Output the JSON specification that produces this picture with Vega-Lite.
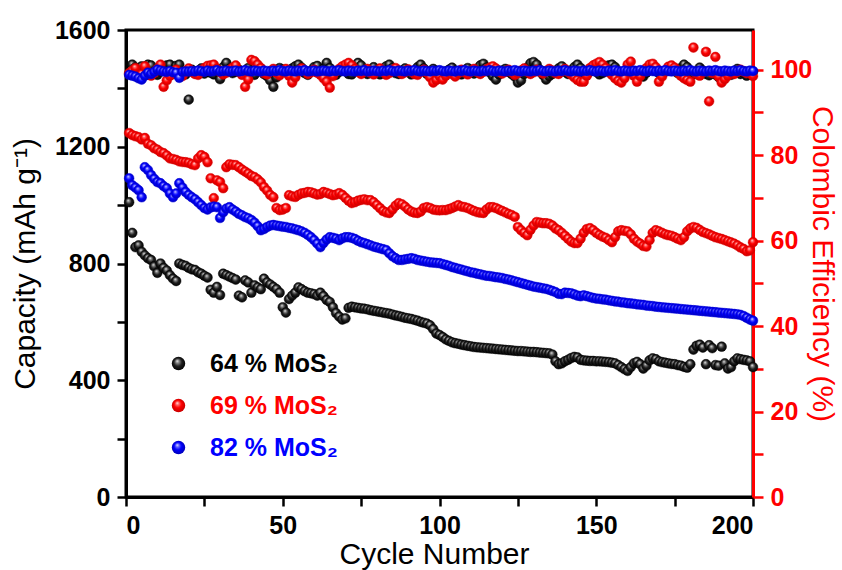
{
"$schema":"https://vega.github.io/schema/vega-lite/v6.json",
"width":627,"height":467,
"autosize":{"type":"none"},
"padding":{"left":126,"top":30,"right":89,"bottom":73},
"background":"white",
"data":{"values":[
{"c":1,"a":1010,"b":1247,"d":1092,"ea":99.0,"eb":99.2,"ed":98.8},
{"c":2,"a":905,"b":1240,"d":1068,"ea":101.2,"eb":99.8,"ed":98.6},
{"c":3,"a":856,"b":1236,"d":1060,"ea":100.5,"eb":100.4,"ed":98.4},
{"c":4,"a":862,"b":1233,"d":1051,"ea":99.2,"eb":98.5,"ed":98.0},
{"c":5,"a":840,"b":1225,"d":1027,"ea":100.8,"eb":99.0,"ed":97.7},
{"c":6,"a":828,"b":1230,"d":1130,"ea":99.0,"eb":100.8,"ed":98.6},
{"c":7,"a":818,"b":1210,"d":1120,"ea":101.2,"eb":99.5,"ed":99.3},
{"c":8,"a":812,"b":1205,"d":1103,"ea":101.0,"eb":98.6,"ed":99.0},
{"c":9,"a":790,"b":1195,"d":1090,"ea":99.5,"eb":99.3,"ed":99.5},
{"c":10,"a":768,"b":1190,"d":1079,"ea":98.8,"eb":100.2,"ed":100.0},
{"c":11,"a":800,"b":1182,"d":1075,"ea":99.6,"eb":101.2,"ed":99.8},
{"c":12,"a":785,"b":1178,"d":1065,"ea":100.2,"eb":96.0,"ed":99.6},
{"c":13,"a":776,"b":1170,"d":1058,"ea":101.0,"eb":97.5,"ed":99.5},
{"c":14,"a":760,"b":1160,"d":1040,"ea":101.2,"eb":98.6,"ed":99.7},
{"c":15,"a":748,"b":1158,"d":1027,"ea":99.0,"eb":99.4,"ed":99.4},
{"c":16,"a":740,"b":1155,"d":1040,"ea":100.9,"eb":100.0,"ed":99.3},
{"c":17,"a":800,"b":1150,"d":1075,"ea":101.2,"eb":99.0,"ed":98.1},
{"c":18,"a":795,"b":1148,"d":1060,"ea":99.4,"eb":98.5,"ed":99.5},
{"c":19,"a":792,"b":1147,"d":1045,"ea":98.9,"eb":99.6,"ed":99.6},
{"c":20,"a":785,"b":1145,"d":1035,"ea":93.0,"eb":100.3,"ed":99.6},
{"c":21,"a":780,"b":1140,"d":1027,"ea":100.0,"eb":99.5,"ed":99.7},
{"c":22,"a":778,"b":1137,"d":1020,"ea":99.2,"eb":99.0,"ed":99.6},
{"c":23,"a":770,"b":1160,"d":1010,"ea":99.6,"eb":98.8,"ed":99.8},
{"c":24,"a":765,"b":1171,"d":1000,"ea":100.3,"eb":99.7,"ed":99.7},
{"c":25,"a":758,"b":1165,"d":990,"ea":99.1,"eb":100.4,"ed":99.5},
{"c":26,"a":752,"b":1147,"d":985,"ea":100.0,"eb":100.9,"ed":99.8},
{"c":27,"a":710,"b":1092,"d":992,"ea":99.3,"eb":101.0,"ed":99.6},
{"c":28,"a":700,"b":1024,"d":995,"ea":98.9,"eb":101.2,"ed":99.7},
{"c":29,"a":720,"b":1085,"d":993,"ea":99.7,"eb":100.2,"ed":99.9},
{"c":30,"a":692,"b":1079,"d":956,"ea":97.8,"eb":99.5,"ed":99.6},
{"c":31,"a":765,"b":1058,"d":975,"ea":100.6,"eb":98.9,"ed":99.7},
{"c":32,"a":760,"b":1130,"d":988,"ea":101.6,"eb":99.3,"ed":99.8},
{"c":33,"a":755,"b":1140,"d":993,"ea":100.2,"eb":99.9,"ed":99.6},
{"c":34,"a":750,"b":1138,"d":985,"ea":99.2,"eb":100.5,"ed":99.7},
{"c":35,"a":745,"b":1137,"d":978,"ea":99.5,"eb":101.0,"ed":99.8},
{"c":36,"a":690,"b":1130,"d":970,"ea":100.0,"eb":99.6,"ed":99.6},
{"c":37,"a":684,"b":1122,"d":965,"ea":99.0,"eb":98.8,"ed":99.7},
{"c":38,"a":742,"b":1115,"d":959,"ea":99.6,"eb":96.0,"ed":99.9},
{"c":39,"a":735,"b":1108,"d":955,"ea":100.4,"eb":97.7,"ed":99.7},
{"c":40,"a":700,"b":1100,"d":949,"ea":99.3,"eb":102.3,"ed":99.6},
{"c":41,"a":725,"b":1096,"d":940,"ea":98.8,"eb":102.0,"ed":99.8},
{"c":42,"a":718,"b":1088,"d":928,"ea":99.8,"eb":101.2,"ed":99.7},
{"c":43,"a":712,"b":1078,"d":914,"ea":100.3,"eb":100.4,"ed":99.6},
{"c":44,"a":748,"b":1062,"d":918,"ea":99.0,"eb":99.2,"ed":99.8},
{"c":45,"a":735,"b":1050,"d":925,"ea":98.5,"eb":98.9,"ed":99.7},
{"c":46,"a":728,"b":1035,"d":930,"ea":97.5,"eb":99.6,"ed":99.6},
{"c":47,"a":720,"b":1027,"d":932,"ea":96.0,"eb":100.2,"ed":99.8},
{"c":48,"a":712,"b":990,"d":930,"ea":98.2,"eb":99.3,"ed":99.7},
{"c":49,"a":700,"b":983,"d":928,"ea":100.4,"eb":98.7,"ed":99.9},
{"c":50,"a":650,"b":985,"d":926,"ea":100.0,"eb":99.5,"ed":99.7},
{"c":51,"a":632,"b":990,"d":925,"ea":99.4,"eb":100.2,"ed":99.6},
{"c":52,"a":678,"b":1034,"d":922,"ea":98.9,"eb":98.6,"ed":99.8},
{"c":53,"a":690,"b":1030,"d":920,"ea":100.3,"eb":97.0,"ed":99.7},
{"c":54,"a":700,"b":1028,"d":917,"ea":100.8,"eb":98.2,"ed":99.6},
{"c":55,"a":718,"b":1035,"d":914,"ea":101.2,"eb":99.5,"ed":99.8},
{"c":56,"a":712,"b":1040,"d":910,"ea":100.5,"eb":100.3,"ed":99.7},
{"c":57,"a":705,"b":1042,"d":905,"ea":99.2,"eb":99.8,"ed":99.9},
{"c":58,"a":700,"b":1045,"d":898,"ea":98.8,"eb":99.0,"ed":99.6},
{"c":59,"a":698,"b":1044,"d":890,"ea":99.7,"eb":99.4,"ed":99.7},
{"c":60,"a":695,"b":1040,"d":880,"ea":100.6,"eb":100.0,"ed":99.8},
{"c":61,"a":690,"b":1036,"d":868,"ea":100.9,"eb":99.3,"ed":99.6},
{"c":62,"a":700,"b":1038,"d":856,"ea":99.3,"eb":98.8,"ed":99.7},
{"c":63,"a":688,"b":1045,"d":870,"ea":100.2,"eb":98.0,"ed":99.8},
{"c":64,"a":675,"b":1042,"d":882,"ea":101.6,"eb":97.2,"ed":99.7},
{"c":65,"a":668,"b":1038,"d":890,"ea":100.4,"eb":95.8,"ed":99.6},
{"c":66,"a":650,"b":1034,"d":888,"ea":99.0,"eb":98.5,"ed":99.8},
{"c":67,"a":630,"b":1036,"d":885,"ea":98.8,"eb":99.6,"ed":99.7},
{"c":68,"a":618,"b":1041,"d":880,"ea":99.5,"eb":100.2,"ed":99.9},
{"c":69,"a":608,"b":1035,"d":886,"ea":100.0,"eb":100.8,"ed":99.7},
{"c":70,"a":612,"b":1025,"d":890,"ea":100.5,"eb":101.2,"ed":99.6},
{"c":71,"a":648,"b":1015,"d":890,"ea":99.0,"eb":101.6,"ed":99.8},
{"c":72,"a":652,"b":1007,"d":888,"ea":98.9,"eb":101.0,"ed":99.7},
{"c":73,"a":650,"b":1010,"d":884,"ea":100.6,"eb":100.2,"ed":99.6},
{"c":74,"a":648,"b":1015,"d":878,"ea":101.6,"eb":99.5,"ed":99.8},
{"c":75,"a":646,"b":1018,"d":873,"ea":101.0,"eb":99.0,"ed":99.7},
{"c":76,"a":645,"b":1020,"d":870,"ea":99.5,"eb":99.6,"ed":99.9},
{"c":77,"a":643,"b":1017,"d":866,"ea":99.0,"eb":100.2,"ed":99.6},
{"c":78,"a":640,"b":1017,"d":862,"ea":99.3,"eb":99.3,"ed":99.7},
{"c":79,"a":638,"b":1010,"d":858,"ea":100.6,"eb":98.9,"ed":99.8},
{"c":80,"a":636,"b":1000,"d":855,"ea":99.4,"eb":99.7,"ed":99.7},
{"c":81,"a":634,"b":990,"d":852,"ea":98.9,"eb":100.3,"ed":99.6},
{"c":82,"a":632,"b":980,"d":849,"ea":99.7,"eb":99.5,"ed":99.8},
{"c":83,"a":630,"b":975,"d":846,"ea":100.8,"eb":98.8,"ed":99.7},
{"c":84,"a":628,"b":973,"d":835,"ea":101.2,"eb":99.2,"ed":99.9},
{"c":85,"a":625,"b":985,"d":825,"ea":100.4,"eb":99.9,"ed":99.7},
{"c":86,"a":622,"b":998,"d":818,"ea":99.2,"eb":100.4,"ed":99.6},
{"c":87,"a":620,"b":1007,"d":812,"ea":99.0,"eb":99.6,"ed":99.8},
{"c":88,"a":617,"b":1003,"d":812,"ea":99.8,"eb":99.0,"ed":99.7},
{"c":89,"a":614,"b":995,"d":814,"ea":100.3,"eb":99.4,"ed":99.6},
{"c":90,"a":612,"b":985,"d":816,"ea":99.5,"eb":100.1,"ed":99.8},
{"c":91,"a":610,"b":978,"d":818,"ea":98.9,"eb":99.6,"ed":99.7},
{"c":92,"a":607,"b":974,"d":816,"ea":99.6,"eb":99.0,"ed":99.9},
{"c":93,"a":604,"b":973,"d":812,"ea":100.6,"eb":98.8,"ed":99.7},
{"c":94,"a":600,"b":978,"d":810,"ea":101.2,"eb":99.5,"ed":99.6},
{"c":95,"a":597,"b":990,"d":808,"ea":100.3,"eb":100.0,"ed":99.8},
{"c":96,"a":594,"b":993,"d":806,"ea":99.0,"eb":99.3,"ed":99.7},
{"c":97,"a":588,"b":990,"d":804,"ea":99.4,"eb":98.2,"ed":99.6},
{"c":98,"a":575,"b":985,"d":803,"ea":100.2,"eb":97.0,"ed":99.8},
{"c":99,"a":560,"b":983,"d":802,"ea":99.7,"eb":97.6,"ed":99.7},
{"c":100,"a":555,"b":982,"d":801,"ea":99.1,"eb":98.5,"ed":99.9},
{"c":101,"a":548,"b":983,"d":798,"ea":98.9,"eb":97.7,"ed":99.7},
{"c":102,"a":540,"b":983,"d":795,"ea":99.4,"eb":98.6,"ed":99.6},
{"c":103,"a":535,"b":986,"d":792,"ea":100.0,"eb":99.4,"ed":99.8},
{"c":104,"a":530,"b":990,"d":788,"ea":100.5,"eb":99.0,"ed":99.7},
{"c":105,"a":527,"b":995,"d":785,"ea":99.6,"eb":98.4,"ed":99.6},
{"c":106,"a":525,"b":1000,"d":782,"ea":99.2,"eb":99.2,"ed":99.8},
{"c":107,"a":522,"b":995,"d":779,"ea":98.9,"eb":100.0,"ed":99.7},
{"c":108,"a":520,"b":993,"d":776,"ea":99.7,"eb":99.4,"ed":99.9},
{"c":109,"a":518,"b":990,"d":773,"ea":100.4,"eb":98.9,"ed":99.7},
{"c":110,"a":516,"b":985,"d":770,"ea":99.5,"eb":99.6,"ed":99.6},
{"c":111,"a":514,"b":980,"d":768,"ea":99.1,"eb":100.2,"ed":99.8},
{"c":112,"a":513,"b":976,"d":765,"ea":100.2,"eb":99.5,"ed":99.7},
{"c":113,"a":512,"b":974,"d":763,"ea":101.0,"eb":99.0,"ed":99.6},
{"c":114,"a":511,"b":973,"d":760,"ea":101.4,"eb":99.5,"ed":99.8},
{"c":115,"a":510,"b":985,"d":758,"ea":100.5,"eb":100.1,"ed":99.7},
{"c":116,"a":509,"b":993,"d":757,"ea":99.4,"eb":100.5,"ed":99.9},
{"c":117,"a":508,"b":993,"d":755,"ea":98.5,"eb":100.8,"ed":99.7},
{"c":118,"a":507,"b":990,"d":753,"ea":97.7,"eb":100.3,"ed":99.6},
{"c":119,"a":506,"b":985,"d":752,"ea":98.9,"eb":99.6,"ed":99.8},
{"c":120,"a":505,"b":980,"d":750,"ea":99.8,"eb":99.1,"ed":99.7},
{"c":121,"a":504,"b":975,"d":747,"ea":100.2,"eb":99.5,"ed":99.6},
{"c":122,"a":503,"b":970,"d":745,"ea":99.5,"eb":100.0,"ed":99.8},
{"c":123,"a":502,"b":966,"d":742,"ea":99.0,"eb":99.4,"ed":99.7},
{"c":124,"a":501,"b":960,"d":739,"ea":98.4,"eb":98.8,"ed":99.9},
{"c":125,"a":500,"b":925,"d":736,"ea":97.0,"eb":99.2,"ed":99.7},
{"c":126,"a":500,"b":914,"d":733,"ea":97.5,"eb":99.8,"ed":99.6},
{"c":127,"a":499,"b":905,"d":730,"ea":99.0,"eb":100.3,"ed":99.8},
{"c":128,"a":498,"b":897,"d":727,"ea":100.5,"eb":99.6,"ed":99.7},
{"c":129,"a":497,"b":915,"d":724,"ea":101.5,"eb":99.0,"ed":99.6},
{"c":130,"a":497,"b":930,"d":721,"ea":101.8,"eb":99.4,"ed":99.8},
{"c":131,"a":496,"b":942,"d":719,"ea":101.2,"eb":100.0,"ed":99.7},
{"c":132,"a":495,"b":940,"d":717,"ea":100.0,"eb":99.5,"ed":99.9},
{"c":133,"a":494,"b":938,"d":715,"ea":98.8,"eb":99.1,"ed":99.7},
{"c":134,"a":493,"b":938,"d":713,"ea":97.7,"eb":99.6,"ed":99.6},
{"c":135,"a":492,"b":936,"d":710,"ea":98.5,"eb":100.2,"ed":99.8},
{"c":136,"a":488,"b":930,"d":706,"ea":99.0,"eb":99.8,"ed":99.7},
{"c":137,"a":465,"b":920,"d":702,"ea":99.4,"eb":99.2,"ed":99.6},
{"c":138,"a":455,"b":914,"d":696,"ea":100.3,"eb":99.0,"ed":99.8},
{"c":139,"a":458,"b":905,"d":695,"ea":100.8,"eb":99.6,"ed":99.7},
{"c":140,"a":465,"b":895,"d":700,"ea":99.5,"eb":100.2,"ed":99.9},
{"c":141,"a":470,"b":885,"d":699,"ea":99.0,"eb":99.5,"ed":99.7},
{"c":142,"a":476,"b":875,"d":698,"ea":99.8,"eb":98.9,"ed":99.6},
{"c":143,"a":480,"b":870,"d":694,"ea":100.6,"eb":98.2,"ed":99.8},
{"c":144,"a":478,"b":870,"d":690,"ea":101.2,"eb":97.6,"ed":99.7},
{"c":145,"a":470,"b":885,"d":688,"ea":100.4,"eb":97.2,"ed":99.6},
{"c":146,"a":468,"b":905,"d":691,"ea":99.3,"eb":97.2,"ed":99.8},
{"c":147,"a":467,"b":918,"d":688,"ea":98.9,"eb":98.6,"ed":99.7},
{"c":148,"a":466,"b":921,"d":685,"ea":99.6,"eb":100.4,"ed":99.9},
{"c":149,"a":466,"b":914,"d":682,"ea":100.2,"eb":101.0,"ed":99.7},
{"c":150,"a":465,"b":905,"d":680,"ea":99.5,"eb":101.4,"ed":99.6},
{"c":151,"a":465,"b":898,"d":679,"ea":98.9,"eb":101.8,"ed":99.8},
{"c":152,"a":464,"b":892,"d":677,"ea":99.2,"eb":101.2,"ed":99.7},
{"c":153,"a":463,"b":888,"d":676,"ea":100.5,"eb":100.4,"ed":99.6},
{"c":154,"a":462,"b":880,"d":674,"ea":101.0,"eb":99.4,"ed":99.8},
{"c":155,"a":460,"b":873,"d":672,"ea":101.2,"eb":98.8,"ed":99.7},
{"c":156,"a":458,"b":890,"d":670,"ea":100.6,"eb":98.0,"ed":99.9},
{"c":157,"a":452,"b":910,"d":669,"ea":99.1,"eb":97.4,"ed":99.7},
{"c":158,"a":445,"b":914,"d":667,"ea":98.8,"eb":97.0,"ed":99.6},
{"c":159,"a":438,"b":912,"d":666,"ea":99.6,"eb":98.0,"ed":99.8},
{"c":160,"a":432,"b":910,"d":664,"ea":100.1,"eb":101.2,"ed":99.7},
{"c":161,"a":445,"b":900,"d":663,"ea":99.4,"eb":101.9,"ed":99.6},
{"c":162,"a":458,"b":885,"d":662,"ea":98.9,"eb":98.6,"ed":99.8},
{"c":163,"a":463,"b":875,"d":660,"ea":99.5,"eb":97.2,"ed":99.7},
{"c":164,"a":455,"b":868,"d":659,"ea":98.6,"eb":98.5,"ed":99.9},
{"c":165,"a":440,"b":860,"d":658,"ea":98.4,"eb":99.6,"ed":99.7},
{"c":166,"a":450,"b":858,"d":656,"ea":99.3,"eb":100.4,"ed":99.6},
{"c":167,"a":468,"b":880,"d":655,"ea":100.2,"eb":101.2,"ed":99.8},
{"c":168,"a":475,"b":905,"d":654,"ea":100.6,"eb":101.4,"ed":99.7},
{"c":169,"a":472,"b":914,"d":652,"ea":99.8,"eb":100.6,"ed":99.6},
{"c":170,"a":465,"b":910,"d":651,"ea":99.2,"eb":97.2,"ed":99.8},
{"c":171,"a":462,"b":905,"d":650,"ea":98.9,"eb":98.4,"ed":99.7},
{"c":172,"a":460,"b":900,"d":649,"ea":99.6,"eb":99.6,"ed":99.9},
{"c":173,"a":458,"b":897,"d":648,"ea":100.3,"eb":100.7,"ed":99.7},
{"c":174,"a":456,"b":895,"d":647,"ea":100.8,"eb":101.0,"ed":99.6},
{"c":175,"a":455,"b":890,"d":646,"ea":99.7,"eb":100.5,"ed":99.8},
{"c":176,"a":452,"b":885,"d":645,"ea":99.2,"eb":99.4,"ed":99.7},
{"c":177,"a":450,"b":880,"d":644,"ea":100.4,"eb":98.6,"ed":99.6},
{"c":178,"a":446,"b":890,"d":643,"ea":101.2,"eb":98.0,"ed":99.8},
{"c":179,"a":443,"b":910,"d":642,"ea":100.6,"eb":97.6,"ed":99.7},
{"c":180,"a":455,"b":920,"d":641,"ea":99.4,"eb":97.2,"ed":99.9},
{"c":181,"a":505,"b":925,"d":640,"ea":98.9,"eb":105.2,"ed":99.7},
{"c":182,"a":518,"b":922,"d":639,"ea":99.5,"eb":99.0,"ed":99.6},
{"c":183,"a":522,"b":915,"d":638,"ea":100.5,"eb":98.6,"ed":99.8},
{"c":184,"a":512,"b":908,"d":637,"ea":99.8,"eb":99.4,"ed":99.7},
{"c":185,"a":455,"b":904,"d":636,"ea":99.0,"eb":104.2,"ed":99.6},
{"c":186,"a":520,"b":900,"d":635,"ea":98.7,"eb":92.6,"ed":99.8},
{"c":187,"a":510,"b":895,"d":634,"ea":99.3,"eb":99.2,"ed":99.7},
{"c":188,"a":452,"b":890,"d":633,"ea":98.9,"eb":103.0,"ed":99.9},
{"c":189,"a":450,"b":887,"d":632,"ea":98.3,"eb":98.4,"ed":99.7},
{"c":190,"a":515,"b":884,"d":631,"ea":97.7,"eb":97.0,"ed":99.6},
{"c":191,"a":458,"b":880,"d":630,"ea":98.5,"eb":97.8,"ed":99.8},
{"c":192,"a":440,"b":876,"d":629,"ea":99.2,"eb":98.6,"ed":99.7},
{"c":193,"a":445,"b":872,"d":628,"ea":98.8,"eb":99.4,"ed":99.6},
{"c":194,"a":465,"b":868,"d":627,"ea":99.4,"eb":99.0,"ed":99.8},
{"c":195,"a":475,"b":862,"d":626,"ea":100.2,"eb":99.5,"ed":99.7},
{"c":196,"a":472,"b":855,"d":624,"ea":99.0,"eb":100.0,"ed":99.9},
{"c":197,"a":470,"b":850,"d":620,"ea":99.3,"eb":99.6,"ed":99.7},
{"c":198,"a":468,"b":842,"d":614,"ea":98.6,"eb":99.2,"ed":99.6},
{"c":199,"a":465,"b":845,"d":608,"ea":99.0,"eb":99.4,"ed":99.8},
{"c":200,"a":445,"b":873,"d":604,"ea":99.6,"eb":98.5,"ed":99.7}
]},
"encoding":{"x":{"field":"c","type":"quantitative","title":"Cycle Number","scale":{"domain":[0,200],"nice":false},"axis":{"values":[0,25,50,75,100,125,150,175,200],"format":"d","labelExpr":"datum.value % 50 === 0 ? datum.label : ''","titlePadding":1,"labelPadding":7,"titleX":308}}},
"layer":[
{"transform":[{"fold":["a","b","d"],"as":["k","v"]}],
 "mark":{"type":"point","filled":true,"size":95,"opacity":1,"strokeWidth":0.5},
 "encoding":{
  "y":{"field":"v","type":"quantitative","title":"Capacity (mAh g⁻¹)","scale":{"domain":[0,1600],"nice":false},"axis":{"orient":"left","values":[0,200,400,600,800,1000,1200,1400,1600],"format":"d","labelExpr":"datum.value % 400 === 0 ? datum.label : ''","titlePadding":14}},
  "fill":{"value":{"expr":"(datum.k || datum.value) === 'b' ? {gradient:'radial',x1:0.4,y1:0.3,r1:0,x2:0.5,y2:0.5,r2:0.55,stops:[{offset:0,color:'#ffffff'},{offset:0.2,color:'#ff7070'},{offset:0.5,color:'#ff0000'},{offset:1,color:'#c00000'}]} : (datum.k || datum.value) === 'd' ? {gradient:'radial',x1:0.4,y1:0.3,r1:0,x2:0.5,y2:0.5,r2:0.55,stops:[{offset:0,color:'#ffffff'},{offset:0.2,color:'#7070ff'},{offset:0.5,color:'#0000ff'},{offset:1,color:'#0000b0'}]} : {gradient:'radial',x1:0.4,y1:0.3,r1:0,x2:0.5,y2:0.5,r2:0.55,stops:[{offset:0,color:'#ffffff'},{offset:0.22,color:'#8a8a8a'},{offset:0.55,color:'#1e1e1e'},{offset:1,color:'#000000'}]}"}},
  "stroke":{"field":"k","type":"nominal","scale":{"domain":["a","b","d"],"range":["#000000","#e00000","#0000e0"]},
   "legend":{"orient":"none","legendX":40,"legendY":321,"title":null,"padding":0,"labelFont":"Liberation Sans","labelFontSize":25,"labelFontWeight":"bold","symbolType":"circle","symbolSize":180,"symbolStrokeWidth":0,"labelOffset":19,"rowPadding":16,
    "labelExpr":"datum.value === 'a' ? '64 % MoS₂' : datum.value === 'b' ? '69 % MoS₂' : '82 % MoS₂'",
    "labelColor":{"expr":"datum.value === 'b' ? '#ff0000' : datum.value === 'd' ? '#0000ff' : '#000000'"}}}}},
{"layer":[
{"mark":{"type":"point","filled":true,"size":95,"opacity":1,"strokeWidth":0.5,"stroke":"#000000","fill":{"gradient":"radial","x1":0.4,"y1":0.3,"r1":0,"x2":0.5,"y2":0.5,"r2":0.55,"stops":[{"offset":0,"color":"#ffffff"},{"offset":0.22,"color":"#8a8a8a"},{"offset":0.55,"color":"#1e1e1e"},{"offset":1,"color":"#000000"}]}},
 "encoding":{"y":{"field":"ea","type":"quantitative","title":"Colombic Efficiency (%)","scale":{"domain":[0,109.3],"nice":false},"axis":{"orient":"right","values":[0,10,20,30,40,50,60,70,80,90,100],"format":"d","labelExpr":"datum.value % 20 === 0 ? datum.label : ''","titlePadding":-5,"tickSize":10,"labelPadding":7}}}},
{"mark":{"type":"point","filled":true,"size":95,"opacity":1,"strokeWidth":0.5,"stroke":"#e00000","fill":{"gradient":"radial","x1":0.4,"y1":0.3,"r1":0,"x2":0.5,"y2":0.5,"r2":0.55,"stops":[{"offset":0,"color":"#ffffff"},{"offset":0.2,"color":"#ff7070"},{"offset":0.5,"color":"#ff0000"},{"offset":1,"color":"#c00000"}]}},
 "encoding":{"y":{"field":"eb","type":"quantitative","title":"Colombic Efficiency (%)"}}},
{"mark":{"type":"point","filled":true,"size":95,"opacity":1,"strokeWidth":0.5,"stroke":"#0000e0","fill":{"gradient":"radial","x1":0.4,"y1":0.3,"r1":0,"x2":0.5,"y2":0.5,"r2":0.55,"stops":[{"offset":0,"color":"#ffffff"},{"offset":0.2,"color":"#7070ff"},{"offset":0.5,"color":"#0000ff"},{"offset":1,"color":"#0000b0"}]}},
 "encoding":{"y":{"field":"ed","type":"quantitative","title":"Colombic Efficiency (%)"}}}
]}
],
"resolve":{"scale":{"y":"independent"}},
"config":{
 "font":"Liberation Sans",
 "view":{"stroke":"#000000","strokeWidth":3},
 "axis":{"grid":false,"labelFont":"Liberation Sans","labelFontSize":25,"labelFontWeight":"bold","titleFont":"Liberation Sans","titleFontSize":30,"titleFontWeight":"normal","domainWidth":3,"tickWidth":2.5,"tickSize":9,"labelPadding":7,"domainColor":"#000000","tickColor":"#000000","labelColor":"#000000","titleColor":"#000000","labelOverlap":false},
 "axisRight":{"domainColor":"#ff0000","tickColor":"#ff0000","labelColor":"#ff0000","titleColor":"#ff0000"}
}
}
